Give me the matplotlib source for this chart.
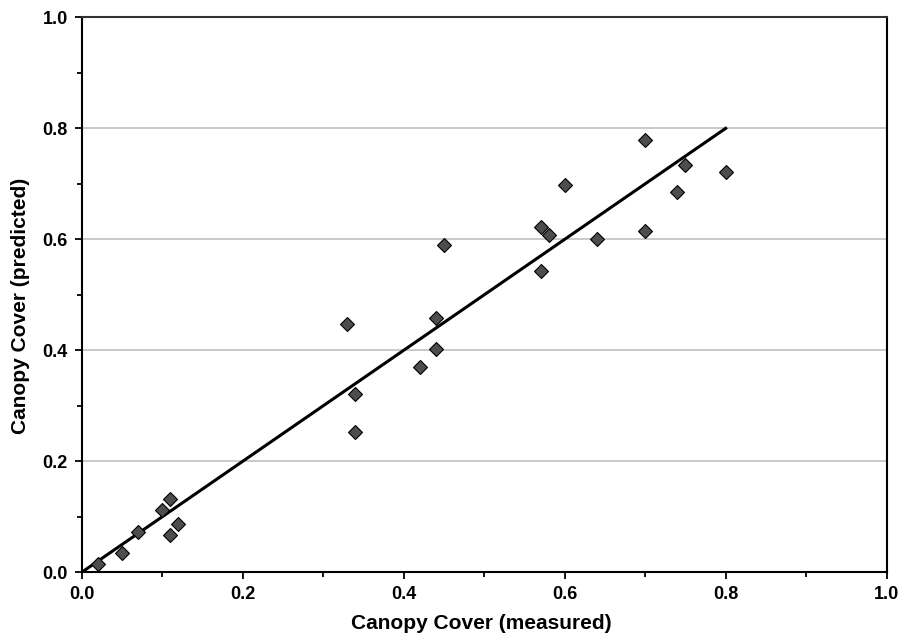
import matplotlib.pyplot as plt
from matplotlib.ticker import MultipleLocator

plt.rcParams['font.family'] = ['Liberation Sans', 'DejaVu Sans']

# measured vs predicted canopy cover
measured = [0.02, 0.05, 0.07, 0.10, 0.11, 0.11, 0.12,
            0.33, 0.34, 0.34, 0.42, 0.44, 0.44, 0.45,
            0.57, 0.57, 0.58, 0.60, 0.64, 0.70, 0.70, 0.74, 0.75, 0.80]
predicted = [0.015, 0.034, 0.072, 0.113, 0.132, 0.068, 0.087,
             0.447, 0.321, 0.253, 0.370, 0.458, 0.402, 0.590,
             0.623, 0.543, 0.607, 0.697, 0.600, 0.779, 0.615, 0.685, 0.734, 0.721]
line_x = [0.0, 0.8]
line_y = [0.0, 0.8]

fig = plt.figure(figsize=(8.99, 6.37), dpi=100)
ax = fig.add_axes([0.0909, 0.1016, 0.8954, 0.8712])

ax.grid(axis='y', color='#c0c0c0', linewidth=1.2)
ax.set_axisbelow(True)

ax.plot(line_x, line_y, color='black', linewidth=2.2, zorder=2)
ax.plot(measured, predicted, linestyle='none', marker='D', markersize=7.5,
        markerfacecolor='#4d4d4d', markeredgecolor='black', markeredgewidth=0.8,
        zorder=3)

ax.set_xlim(0, 1)
ax.set_ylim(0, 1)
ax.xaxis.set_major_locator(MultipleLocator(0.2))
ax.yaxis.set_major_locator(MultipleLocator(0.2))
ax.xaxis.set_minor_locator(MultipleLocator(0.1))
ax.yaxis.set_minor_locator(MultipleLocator(0.1))
ax.xaxis.set_major_formatter(lambda v, p: f'{v:.1f}')
ax.yaxis.set_major_formatter(lambda v, p: f'{v:.1f}')

ax.tick_params(which='major', direction='out', length=5, width=1.3,
               labelsize=13, pad=5)
ax.tick_params(which='minor', direction='out', length=3.5, width=1.3)
ax.tick_params(top=False, right=False, which='both')
for lab in ax.get_xticklabels() + ax.get_yticklabels():
    lab.set_fontweight('bold')

for s in ax.spines.values():
    s.set_linewidth(1.5)
ax.spines['top'].set_color('#333333')

ax.set_xlabel('Canopy Cover (measured)', fontsize=15, fontweight='bold', va='center')
ax.set_ylabel('Canopy Cover (predicted)', fontsize=15, fontweight='bold', va='center')
ax.xaxis.set_label_coords(0.497, -0.093)
ax.yaxis.set_label_coords(-0.0766, 0.48)

fig.savefig('out.png', dpi=100)
